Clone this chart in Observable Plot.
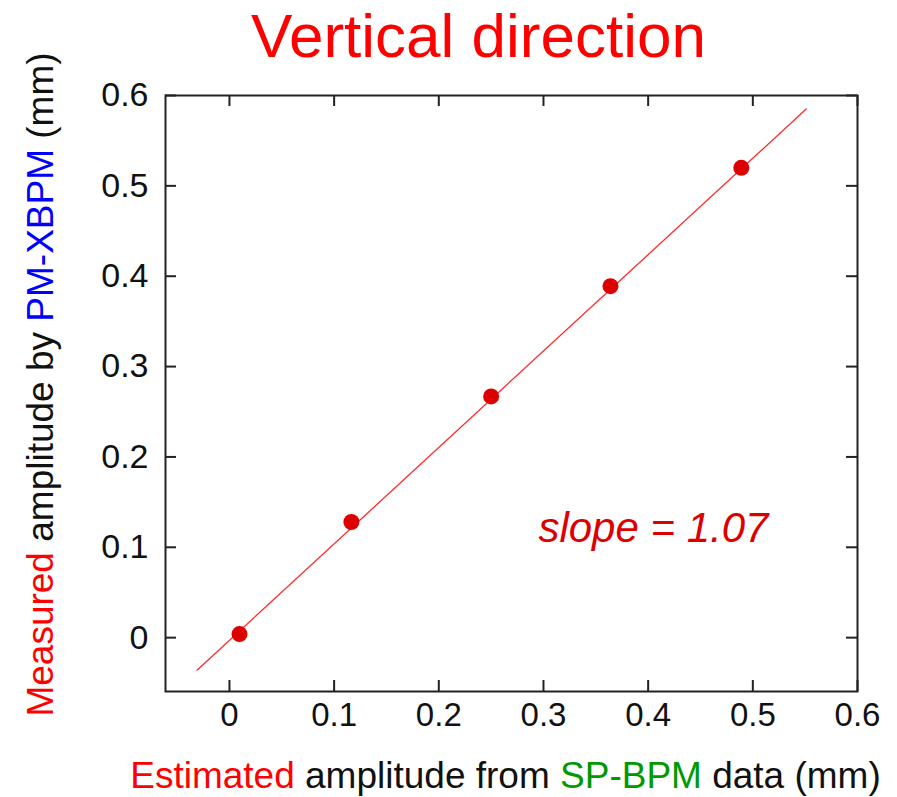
<!DOCTYPE html>
<html>
<head>
<meta charset="utf-8">
<script src="https://cdn.jsdelivr.net/npm/d3@7"></script>
<script src="https://cdn.jsdelivr.net/npm/@observablehq/plot@0.6"></script>
<style>
  html, body { margin: 0; padding: 0; background: #fff; }
  #chart svg { display: block; }
</style>
</head>
<body>
<div id="chart"></div>
<script>
// Data
const estimated = [0.0096, 0.1165, 0.250, 0.364, 0.489];   // SP-BPM estimated amplitude (mm)
const measured  = [0.004, 0.128, 0.267, 0.389, 0.520];      // PM-XBPM measured amplitude (mm)
const fitX = [-0.031, 0.551];   // fitted line end points (x)
const fitY = [-0.036, 0.585];   // fitted line end points (y)
const xTicks = [0, 0.1, 0.2, 0.3, 0.4, 0.5, 0.6];
const yTicks = [0, 0.1, 0.2, 0.3, 0.4, 0.5, 0.6];
const slopeText = "slope = 1.07";
const slopePos = [0.405, 0.106];

const points = estimated.map((x, i) => ({x, y: measured[i]}));
const fit = fitX.map((x, i) => ({x, y: fitY[i]}));

const W = 897, H = 797;
const mL = 165, mR = 40, mT = 95, mB = 106;
const plotH = H - mT - mB;
const plotW = W - mL - mR;
const tickLen = 11;
const font = "'Liberation Sans', Arial, sans-serif";

const chart = Plot.plot({
  width: W,
  height: H,
  marginLeft: mL,
  marginRight: mR,
  marginTop: mT,
  marginBottom: mB,
  style: {fontFamily: font, background: "#fff"},
  x: {domain: [-0.0611, 0.6]},
  y: {domain: [-0.0596, 0.6]},
  marks: [
    Plot.axisX(xTicks, {tickSize: 0, tickPadding: 11, fontSize: 33, fill: "#111", tickFormat: d => String(d), label: null}),
    Plot.axisY(yTicks, {tickSize: 0, tickPadding: 17, fontSize: 34, fill: "#111", tickFormat: d => String(d), label: null}),
    // inward ticks on all four sides
    Plot.tickX(xTicks, {x: d => d, insetTop: plotH - tickLen, stroke: "#222", strokeWidth: 2}),
    Plot.tickX(xTicks, {x: d => d, insetBottom: plotH - tickLen, stroke: "#222", strokeWidth: 2}),
    Plot.tickY(yTicks, {y: d => d, insetRight: plotW - tickLen, stroke: "#222", strokeWidth: 2}),
    Plot.tickY(yTicks, {y: d => d, insetLeft: plotW - tickLen, stroke: "#222", strokeWidth: 2}),
    Plot.frame({stroke: "#222", strokeWidth: 2}),
    Plot.line(fit, {x: "x", y: "y", stroke: "#ff2a2a", strokeWidth: 1.3}),
    Plot.dot(points, {x: "x", y: "y", r: 8, fill: "#dd0000", stroke: "none"}),
    Plot.text([slopeText], {x: () => slopePos[0], y: () => slopePos[1], text: d => d, fontSize: 42, fontStyle: "italic", fill: "#dd0000", textAnchor: "middle", lineAnchor: "bottom"})
  ]
});

const svg = d3.select(chart);

// Title
svg.append("text")
  .attr("x", 478.5).attr("y", 57)
  .attr("text-anchor", "middle")
  .attr("font-family", font)
  .attr("font-size", 62)
  .attr("fill", "#ff0000")
  .text("Vertical direction");

// X axis label (multi-coloured)
const xl = svg.append("text")
  .attr("x", 505.5).attr("y", 788)
  .attr("text-anchor", "middle")
  .attr("font-family", font)
  .attr("font-size", 37)
  .attr("fill", "#111");
xl.append("tspan").attr("fill", "#ff0000").text("Estimated");
xl.append("tspan").text(" amplitude from ");
xl.append("tspan").attr("fill", "#009900").text("SP-BPM");
xl.append("tspan").text(" data (mm)");

// Y axis label (multi-coloured, rotated)
const yl = svg.append("text")
  .attr("transform", "translate(53,384.5) rotate(-90)")
  .attr("text-anchor", "middle")
  .attr("font-family", font)
  .attr("font-size", 37)
  .attr("fill", "#111");
yl.append("tspan").attr("fill", "#ff0000").text("Measured");
yl.append("tspan").text(" amplitude by ");
yl.append("tspan").attr("fill", "#0000ff").text("PM-XBPM");
yl.append("tspan").text(" (mm)");

document.getElementById("chart").appendChild(chart);
</script>
</body>
</html>
